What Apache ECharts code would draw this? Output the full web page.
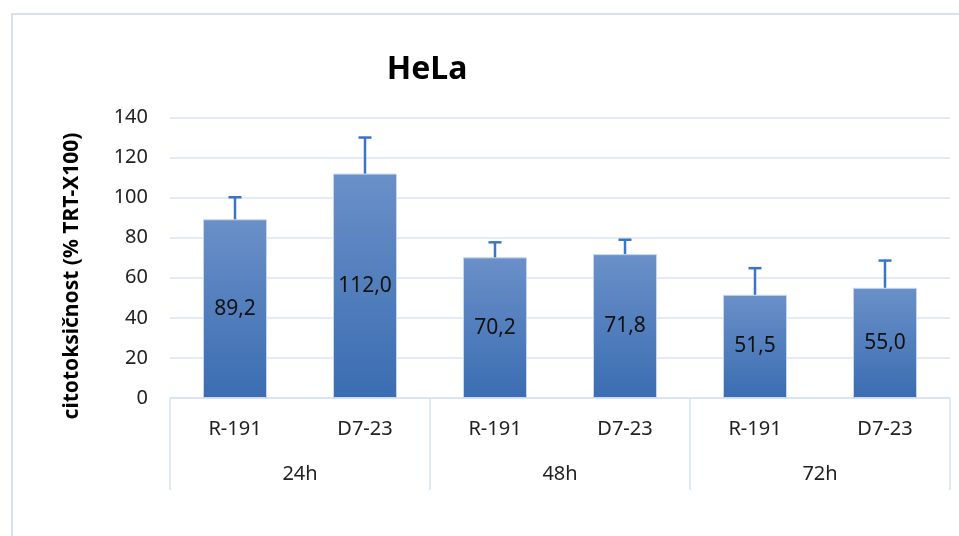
<!DOCTYPE html>
<html>
<head>
<meta charset="utf-8">
<script src="https://cdn.jsdelivr.net/npm/echarts@6/dist/echarts.min.js"></script>
<style>html,body{margin:0;padding:0;background:#fff}#c{width:959px;height:536px}</style>
</head>
<body>
<div id="c"></div>
<script>
var categories = ['R-191', 'D7-23', 'R-191', 'D7-23', 'R-191', 'D7-23'];
var groups = ['24h', '48h', '72h'];
var values = [89.2, 112.0, 70.2, 71.8, 51.5, 55.0];
var errors = [11.0, 18.0, 7.5, 7.2, 13.3, 13.6];
var yTicks = [0, 20, 40, 60, 80, 100, 120, 140];

var FONT = '"Noto Sans", "Open Sans", sans-serif';
var chart = echarts.init(document.getElementById('c'));

var errData = values.map(function (v, i) { return [i, v, v + errors[i]]; });

chart.setOption({
  animation: false,
  backgroundColor: '#ffffff',
  graphic: [
    {
      type: 'rect', silent: true,
      shape: { x: 12, y: 14, width: 1000, height: 600 },
      style: { fill: 'none', stroke: '#d6e2f3', lineWidth: 2 }
    },
    {
      type: 'text', silent: true,
      x: 427, y: 70,
      style: {
        text: 'HeLa',
        fontFamily: FONT, fontWeight: 'bold', fontSize: 32, fill: '#000',
        align: 'center', verticalAlign: 'middle'
      }
    },
    {
      type: 'text', silent: true,
      x: 72, y: 276, rotation: Math.PI / 2,
      style: {
        text: 'citotoksičnost (% TRT-X100)',
        fontFamily: FONT, fontWeight: 'bold', fontSize: 21, fill: '#000',
        align: 'center', verticalAlign: 'middle'
      }
    }
  ],
  grid: { left: 170, right: 9, top: 117.5, bottom: 138, containLabel: false },
  xAxis: [
    {
      type: 'category', data: categories, gridIndex: 0,
      axisLine: { show: true, lineStyle: { color: '#d6e2f3', width: 1.5 } },
      axisTick: { show: false },
      axisLabel: { margin: 21, fontFamily: FONT, fontSize: 20, color: '#222' }
    },
    {
      type: 'category', data: groups, gridIndex: 0, position: 'bottom',
      axisLine: { show: false },
      axisTick: { show: true, length: 92, interval: 0, lineStyle: { color: '#d6e2f3', width: 1.5 } },
      axisLabel: { margin: 66, fontFamily: FONT, fontSize: 20, color: '#222' }
    }
  ],
  yAxis: {
    type: 'value', min: yTicks[0], max: yTicks[yTicks.length - 1], interval: 20,
    axisLine: { show: false }, axisTick: { show: false },
    axisLabel: { margin: 22, fontFamily: FONT, fontSize: 20, color: '#222' },
    splitLine: { lineStyle: { color: '#d9e4f3', width: 1.5 } }
  },
  series: [
    {
      type: 'bar', data: values, xAxisIndex: 0, barWidth: 64,
      itemStyle: {
        color: new echarts.graphic.LinearGradient(0, 0, 0, 1, [
          { offset: 0, color: '#6a90c8' },
          { offset: 1, color: '#3b6db2' }
        ]),
        borderColor: '#c6d6ee', borderWidth: 1
      },
      label: {
        show: true, position: 'inside',
        formatter: function (p) { return p.value.toFixed(1).replace('.', ','); },
        fontFamily: FONT, fontSize: 21, color: '#111'
      },
      z: 2
    },
    {
      type: 'custom', xAxisIndex: 0, data: errData, z: 3,
      renderItem: function (params, api) {
        var x = api.value(0);
        var p0 = api.coord([x, api.value(1)]);
        var p1 = api.coord([x, api.value(2)]);
        var style = { stroke: '#3a74c6', lineWidth: 2.5 };
        return {
          type: 'group',
          children: [
            { type: 'line', shape: { x1: p0[0], y1: p0[1], x2: p1[0], y2: p1[1] }, style: style },
            { type: 'line', shape: { x1: p1[0] - 6.5, y1: p1[1], x2: p1[0] + 6.5, y2: p1[1] }, style: style }
          ]
        };
      }
    }
  ]
});
</script>
</body>
</html>
